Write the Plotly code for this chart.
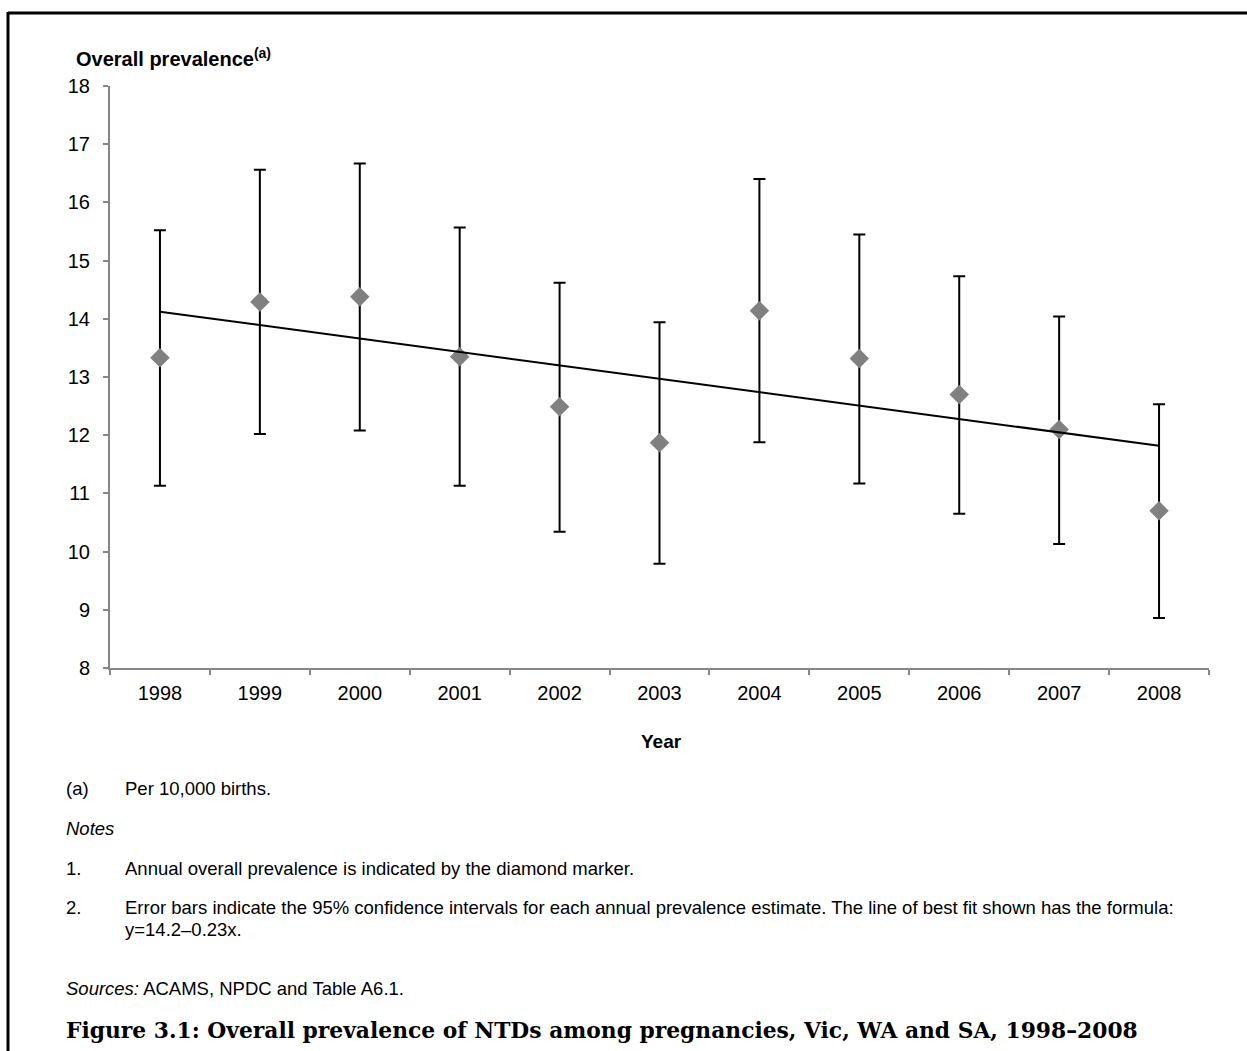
import numpy as np
import plotly.graph_objects as go

# Annual overall prevalence of NTDs (per 10,000 births) with 95% confidence limits
years = ["1998", "1999", "2000", "2001", "2002", "2003", "2004", "2005", "2006", "2007", "2008"]
prevalence = [13.33, 14.29, 14.38, 13.35, 12.49, 11.87, 14.14, 13.32, 12.70, 12.10, 10.70]
ci_upper = [15.52, 16.56, 16.67, 15.57, 14.62, 13.94, 16.40, 15.45, 14.73, 14.04, 12.53]
ci_lower = [11.13, 12.02, 12.08, 11.13, 10.34, 9.79, 11.88, 11.17, 10.65, 10.13, 8.86]
y_ticks = [8, 9, 10, 11, 12, 13, 14, 15, 16, 17, 18]

W, H = 1247, 1051
L, R, T, B = 110, 38, 86, 383
PW, PH = W - L - R, H - T - B


def px(x):
    return (x - L) / PW


def py(y):
    return (H - B - y) / PH


err_plus = [u - v for u, v in zip(ci_upper, prevalence)]
err_minus = [v - lo for v, lo in zip(prevalence, ci_lower)]

# least-squares line of best fit through the annual estimates
idx = np.arange(len(years))
slope, intercept = np.polyfit(idx, prevalence, 1)
trend = intercept + slope * idx

AXIS = "#868686"
FONT = "Liberation Sans, Arial, sans-serif"

fig = go.Figure()
fig.add_trace(go.Scatter(
    x=years, y=prevalence, mode="markers",
    marker=dict(symbol="diamond", size=15, color="#808080", line=dict(width=0)),
    error_y=dict(type="data", symmetric=False, array=err_plus, arrayminus=err_minus,
                 color="black", thickness=2, width=6),
    showlegend=False, hoverinfo="skip",
))
fig.add_trace(go.Scatter(
    x=years, y=trend, mode="lines",
    line=dict(color="black", width=2),
    showlegend=False, hoverinfo="skip",
))

fig.update_xaxes(
    type="category", range=[-0.5, len(years) - 0.5], tickson="boundaries",
    ticks="outside", ticklen=5, tickcolor=AXIS, tickwidth=2,
    showline=True, linecolor=AXIS, linewidth=2,
    showgrid=False, zeroline=False, tickfont=dict(family=FONT, size=20, color="black"),
    ticklabelstandoff=6,
)
fig.update_yaxes(
    range=[8, 18], tickvals=y_ticks, ticks="outside", ticklen=5,
    tickcolor=AXIS, tickwidth=2, showline=True, linecolor=AXIS, linewidth=2,
    showgrid=False, zeroline=False, tickfont=dict(family=FONT, size=20, color="black"),
    ticklabelstandoff=9,
)

notes = [
    (64, 788, "(a)"),
    (123, 788, "Per 10,000 births."),
    (64, 828, "<i>Notes</i>"),
    (64, 868, "1."),
    (123, 868, "Annual overall prevalence is indicated by the diamond marker."),
    (64, 908, "2."),
    (123, 908, "Error bars indicate the 95% confidence intervals for each annual prevalence estimate. "
               "The line of best fit shown has the formula:"),
    (123, 929, "y=14.2\u20130.23x."),
    (64, 988, "<i>Sources:</i> ACAMS, NPDC and Table A6.1."),
]
annotations = []
for x, y, text in notes:
    annotations.append(dict(
        x=px(x), y=py(y), xref="paper", yref="paper", xanchor="left", yanchor="middle",
        text=text, showarrow=False, font=dict(family=FONT, size=18.5, color="black"),
    ))

annotations.append(dict(
    x=px(74), y=py(58), xref="paper", yref="paper", xanchor="left", yanchor="middle",
    text="<b>Overall prevalence<sup>(a)</sup></b>", showarrow=False,
    font=dict(family=FONT, size=20, color="black"),
))
annotations.append(dict(
    x=px(661), y=py(741), xref="paper", yref="paper", xanchor="center", yanchor="middle",
    text="<b>Year</b>", showarrow=False, font=dict(family=FONT, size=19, color="black"),
))
annotations.append(dict(
    x=px(64), y=py(1030), xref="paper", yref="paper", xanchor="left", yanchor="middle",
    text="<b>Figure 3.1: Overall prevalence of NTDs among pregnancies, Vic, WA and SA, 1998\u20132008</b>",
    showarrow=False, font=dict(family="DejaVu Serif, serif", size=21.8, color="black"),
))

# page frame (top and left rules)
shapes = [
    dict(type="line", xref="paper", yref="paper", x0=px(8), x1=px(W + 5), y0=py(13), y1=py(13),
         line=dict(color="black", width=3)),
    dict(type="line", xref="paper", yref="paper", x0=px(8), x1=px(8), y0=py(12), y1=py(H + 5),
         line=dict(color="black", width=3)),
]

fig.update_layout(
    width=W, height=H, margin=dict(l=L, r=R, t=T, b=B, autoexpand=False),
    paper_bgcolor="white", plot_bgcolor="white",
    annotations=annotations, shapes=shapes, showlegend=False,
)

fig.write_html("out.html")
